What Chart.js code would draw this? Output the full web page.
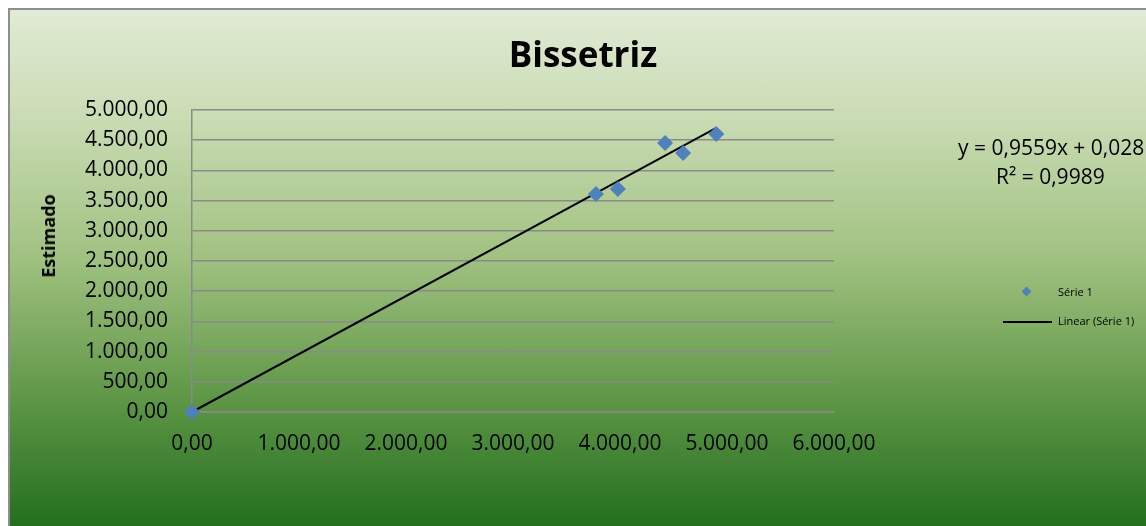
<!DOCTYPE html>
<html>
<head>
<meta charset="utf-8">
<script src="https://cdn.jsdelivr.net/npm/chart.js@4/dist/chart.umd.min.js"></script>
<style>
  html, body { margin: 0; padding: 0; width: 1146px; height: 526px; overflow: hidden; background: #fff; }
  #frame {
    position: absolute; left: 8px; top: 8px; width: 1150px; height: 530px;
    border-left: 2px solid #8e8e8e; border-top: 2px solid #8e8e8e;
    background: linear-gradient(to bottom, #e1ebd5 0%, #cadcb4 20%, #a0c180 47%, #5f9747 73%, #1c6b1a 100%);
  }
  #cv { position: absolute; left: 0; top: 0; }
  .txt { position: absolute; font-family: "Open Sans", sans-serif; color: #000; white-space: nowrap; }
</style>
</head>
<body>
<div id="frame">
  <canvas id="cv" width="1136" height="516"></canvas>
</div>
<div class="txt" id="title" style="left:0; width:1166px; text-align:center; top:30px; font-size:35px; font-weight:bold;">Bissetriz</div>
<div class="txt" id="ytitle" style="left:48px; top:236px; font-size:18px; font-weight:bold; transform: translate(-50%,-50%) rotate(-90deg);">Estimado</div>
<div class="txt" id="eq1" style="left:958px; top:133px; font-size:21px;">y = 0,9559x + 0,028</div>
<div class="txt" id="eq2" style="left:996px; top:162px; font-size:21px;">R² = 0,9989</div>
<div class="txt" style="left:1023px; top:288px; width:10px; height:10px;">
  <div style="position:absolute; left:0; top:0; width:7px; height:7px; background:#4f81bd; transform: rotate(45deg);"></div>
</div>
<div class="txt" style="left:1058px; top:284px; font-size:11px;">Série 1</div>
<div class="txt" style="left:1003px; top:321px; width:49px; height:2px; background:#000;"></div>
<div class="txt" style="left:1058px; top:313px; font-size:11px;">Linear (Série 1)</div>
<script>
// Data
const realValues = [0, 3775, 3980, 4422, 4590, 4900];      // x (observed)
const estimatedValues = [0, 3609, 3692, 4454, 4288, 4603]; // y (estimated)
const trendX = [0, 4900];
const trendY = [0, 4703];
const xTickValues = [0, 1000, 2000, 3000, 4000, 5000, 6000];
const yTickValues = [0, 500, 1000, 1500, 2000, 2500, 3000, 3500, 4000, 4500, 5000];

function fmt(v) {
  return v.toLocaleString('pt-BR', { minimumFractionDigits: 2, maximumFractionDigits: 2 });
}

const scatterData = realValues.map((x, i) => ({ x: x, y: estimatedValues[i] }));
const trendData = trendX.map((x, i) => ({ x: x, y: trendY[i] }));
const tickFont = { family: "Open Sans", size: 21 };

new Chart(document.getElementById('cv'), {
  type: 'scatter',
  data: {
    datasets: [
      {
        label: 'Linear (Série 1)',
        type: 'line',
        data: trendData,
        borderColor: '#000',
        borderWidth: 2,
        pointRadius: 0,
        fill: false,
        order: 2
      },
      {
        label: 'Série 1',
        data: scatterData,
        pointStyle: 'rectRot',
        pointRadius: 8,
        pointHoverRadius: 8,
        backgroundColor: '#4f81bd',
        borderColor: '#4f81bd',
        borderWidth: 0,
        order: 1
      }
    ]
  },
  options: {
    responsive: false,
    animation: false,
    clip: false,
    layout: { padding: { left: 0, right: 312, top: 100, bottom: 0 } },
    plugins: { legend: { display: false }, title: { display: false }, tooltip: { enabled: false } },
    scales: {
      x: {
        type: 'linear',
        min: 0, max: 6000,
        afterFit: (s) => { s.height = 114; },
        afterBuildTicks: (s) => { s.ticks = xTickValues.map(v => ({ value: v })); },
        grid: { display: false, drawTicks: false },
        border: { display: true, color: '#8a8a8a', width: 1.5 },
        ticks: { color: '#000', font: tickFont, padding: 19, maxRotation: 0, autoSkip: false, callback: (v) => fmt(v) }
      },
      y: {
        type: 'linear',
        min: 0, max: 5000,
        afterFit: (s) => { s.width = 182; },
        afterBuildTicks: (s) => { s.ticks = yTickValues.map(v => ({ value: v })); },
        grid: { display: true, color: '#8a8a8a', lineWidth: 1.5, drawTicks: false },
        border: { display: true, color: '#8a8a8a', width: 1.5 },
        ticks: { color: '#000', font: tickFont, padding: 24, autoSkip: false, callback: (v) => fmt(v) }
      }
    }
  }
});
</script>
</body>
</html>
